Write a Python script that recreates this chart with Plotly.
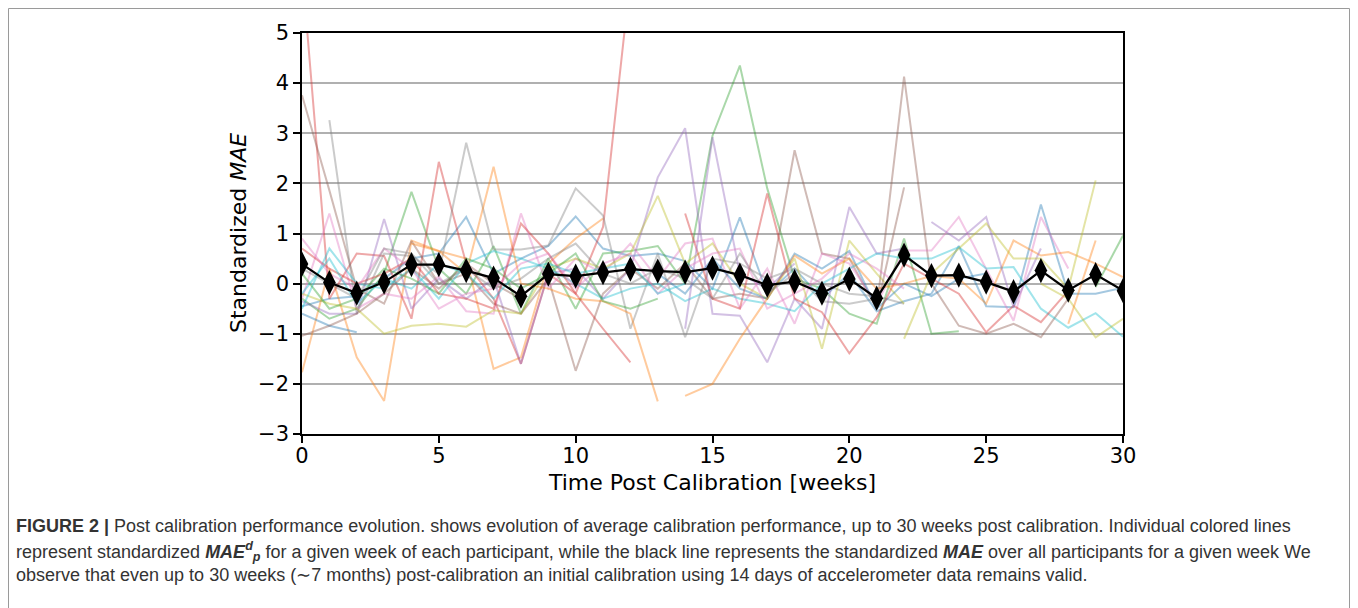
import plotly.graph_objects as go

weeks = [0, 1, 2, 3, 4, 5, 6, 7, 8, 9, 10, 11, 12, 13, 14, 15, 16, 17, 18, 19, 20,
         21, 22, 23, 24, 25, 26, 27, 28, 29, 30]

mean_mae = [0.39, 0.02, -0.19, 0.03, 0.38, 0.38, 0.26, 0.11, -0.25, 0.19, 0.15,
            0.22, 0.29, 0.25, 0.23, 0.31, 0.17, -0.03, 0.04, -0.19, 0.09, -0.29,
            0.57, 0.16, 0.17, 0.03, -0.16, 0.26, -0.13, 0.18, -0.14]

N = None
p01 = [-0.45, -0.3, -0.25, 0.1, 0.5, 0.6, 1.33, 0.2, 0.5, 0.75, 1.34, 0.7, 0.55, 0.6, 0.45, -0.1,
       1.32, -0.2, 0.3, -0.3, 0.2, -0.55, -0.35, -0.2, 0.75, -0.45, -0.47, 1.58, -0.2, -0.2, -0.08]
p02 = [-1.77, 0.3, -1.47, -2.34, 0.86, 0.65, 0.5, -1.7, -1.47, 0.4, 0.9, 1.3, N, N, N, N,
       N, N, N, N, N, N, N, N, N, N, N, N, N, N, N]
p03 = [-0.3, -0.7, -0.5, 0.2, 1.83, 0.3, -0.2, 0.75, -0.6, 0.5, -0.5, 0.6, 0.65, 0.75, 0.0, 2.95,
       4.35, 1.9, 0.1, -0.1, -0.6, -0.8, 0.9, -1.0, -0.95, N, N, N, N, N, N]
p04 = [6.3, -0.3, 0.6, 0.55, -0.7, 2.43, 0.4, -0.3, -1.6, 0.2, -0.2, 1.13, 6.1, N, N, N,
       N, N, N, N, N, N, N, N, N, N, N, N, N, N, N]
p05 = [-0.35, -0.6, -0.6, 1.29, -0.5, 0.1, -0.3, 0.1, -1.6, 0.2, 0.3, -0.3, 0.3, 2.12, 3.1, -0.6,
       -0.64, -1.57, -0.3, -0.9, 1.53, 0.6, 0.7, N, N, N, N, N, N, N, N]
p06 = [3.76, 1.86, -0.1, -0.4, 0.85, 0.0, 0.2, -0.4, -0.6, 0.1, -1.74, -0.2, 0.3, -0.1, 0.4, -0.3,
       -0.2, -0.3, 2.66, 0.6, 0.5, -0.5, 4.13, 0.0, -0.84, -1.0, -0.8, -1.07, -0.3, N, N]
p07 = [-0.3, 1.4, -0.5, -0.2, -0.3, 0.15, -0.55, -0.6, 1.4, -0.1, 0.5, 0.2, 0.8, 0.1, 0.8, 0.9,
       -0.5, 0.3, -0.8, 0.6, 0.4, -0.4, 0.66, 0.66, 1.33, 0.3, -0.74, 1.33, 0.3, N, N]
p08 = [N, 3.26, -0.6, 0.6, 0.55, 0.2, 2.81, 0.68, 0.68, 0.76, 1.9, 1.36, -0.9, 0.6, -1.07, 0.5,
       0.4, 0.1, 0.3, 0.0, -0.2, -0.25, -0.4, N, N, N, N, N, N, N, N]
p09 = [-0.2, -0.4, -0.5, -1.0, -0.84, -0.8, -0.86, -0.53, -0.6, 0.3, 0.5, 0.3, 0.6, 1.75, 0.4, 0.8,
       0.0, -0.3, 0.5, -1.3, 0.86, 0.2, -0.4, N, N, N, N, N, N, N, N]
p10 = [-0.5, 0.7, 0.0, -0.1, 0.3, -0.3, 0.4, 0.65, 0.5, 0.3, 0.0, -0.3, -0.1, 0.0, -0.35, -0.1,
       -0.3, -0.4, -0.55, 0.0, 0.3, 0.6, 0.5, 0.5, 0.73, 0.3, 0.33, -0.5, -0.88, -0.59, -1.06]
p11 = [-0.6, -0.84, -0.97, N, N, N, N, N, N, N, N, N, N, 0.2, -0.2, 0.5,
       -0.1, -0.3, 0.6, 0.3, 0.65, -0.5, 0.0, -0.25, 0.1, 0.2, N, N, N, N, N]
p12 = [N, N, N, N, 0.8, 0.65, 0.2, 2.33, 0.0, -0.1, -0.3, -0.35, -0.6, -2.35, N, N,
       N, N, N, N, N, N, N, N, N, N, N, N, N, N, N]
p13 = [N, N, N, N, N, N, N, N, N, N, N, N, N, N, -2.24, -2.0,
       -1.1, -0.3, 0.56, 0.2, 0.5, -0.1, 0.0, 0.15, 0.1, -0.4, 0.86, 0.56, 0.63, 0.4, 0.13]
p14 = [0.2, -0.5, -0.3, 0.3, 0.1, -0.2, 0.5, 0.3, -0.1, 0.2, 0.6, -0.35, -0.5, -0.3, N, N,
       N, N, N, N, N, N, N, N, N, N, N, N, N, -0.07, 0.96]
p15 = [0.7, 0.3, 0.0, 0.2, 0.5, -0.2, -0.3, -0.5, 1.2, 0.6, -0.2, -0.9, -1.57, N, 1.4, -0.3,
       -0.5, 1.8, -0.3, -0.57, -1.39, -0.67, 0.4, 0.1, -0.2, -0.97, -0.44, -0.77, -0.14, N, N]
p16 = [N, N, N, N, N, N, N, N, N, N, N, N, N, N, -0.9, 2.92,
       0.2, -0.1, 0.4, N, N, N, N, 1.23, 0.86, 1.33, -0.47, 0.7, N, N, N]
p17 = [-1.04, -0.84, -0.6, -0.2, 0.3, -0.1, 0.4, 0.0, -0.3, N, N, N, N, N, N, N,
       N, N, N, N, N, -0.5, 1.92, N, N, N, N, N, N, N, N]
p18 = [0.9, 0.2, -0.1, 0.7, 0.3, -0.5, -0.2, -0.1, 0.4, 0.6, -0.1, 0.4, 0.6, -0.2, 0.3, 0.6,
       0.7, -0.5, -0.2, 0.1, 0.6, 0.3, -0.1, N, N, N, N, N, N, N, N]
p19 = [0.3, 0.0, -0.3, 0.7, 0.6, 0.0, 0.3, -0.1, 0.1, 0.5, 0.8, 0.2, 0.0, 0.3, 0.1, -0.3,
       0.6, -0.2, 0.2, -0.35, -0.4, -0.3, N, N, N, N, N, N, N, N, N]
p20 = [N, N, N, N, N, N, N, N, N, N, N, N, N, N, N, N,
       N, N, N, N, N, N, -1.1, 0.2, 0.7, 1.2, 0.5, 0.5, -0.1, 2.06, N]
p21 = [-0.2, 0.5, -0.4, 0.1, -0.1, 0.4, 0.2, -0.3, 0.3, 0.4, 0.2, 0.3, 0.4, -0.2, 0.0, N,
       N, N, N, N, N, N, N, N, N, N, N, N, N, N, N]
p22 = [N, N, N, N, N, N, N, N, N, N, N, N, N, N, N, N,
       N, N, N, N, N, N, N, N, N, N, N, 0.0, -0.3, -1.07, -0.7]
p23 = [N, N, N, N, N, N, N, N, N, N, N, N, N, N, N, N,
       N, N, N, N, N, N, N, N, N, N, N, N, -0.8, 0.86, N]

participants = [p01, p02, p03, p04, p05, p06, p07, p08, p09, p10, p11, p12,
                p13, p14, p15, p16, p17, p18, p19, p20, p21, p22, p23]
line_colors = ["#1f77b4", "#ff7f0e", "#2ca02c", "#d62728", "#9467bd", "#8c564b",
               "#e377c2", "#7f7f7f", "#bcbd22", "#17becf", "#1f77b4", "#ff7f0e",
               "#ff7f0e", "#2ca02c", "#d62728", "#9467bd", "#8c564b", "#e377c2",
               "#7f7f7f", "#bcbd22", "#17becf", "#bcbd22", "#ff7f0e"]

y_ticks = [-3, -2, -1, 0, 1, 2, 3, 4, 5]
y_tick_text = ["\u22123", "\u22122", "\u22121", "0", "1", "2", "3", "4", "5"]
x_ticks = [0, 5, 10, 15, 20, 25, 30]

caption_lines = [
    "<b>FIGURE 2 |</b> Post calibration performance evolution. shows evolution of average calibration performance, up to 30 weeks post calibration. Individual colored lines",
    "represent standardized <b><i>MAE</i></b><sup><b><i>d</i></b></sup><sub><b><i>p</i></b></sub> for a given week of each participant, while the black line represents the standardized <b><i>MAE</i></b> over all participants for a given week We",
    "observe that even up to 30 weeks (\u223c7 months) post-calibration an initial calibration using 14 days of accelerometer data remains valid.",
]

# The page body adds an 8 px offset; figure coordinates = screen coordinates - 8
OFF = 8
W, H = 1350, 600
L, R, T, B = 302 - OFF, W - (1123 - OFF), 33 - OFF, H - (434 - OFF)
pw, ph = W - L - R, H - T - B

def px(xs):
    return (xs - OFF - L) / pw

def py(ys):
    return (H - B - (ys - OFF)) / ph

fig = go.Figure()
for vals, col in zip(participants, line_colors):
    fig.add_trace(go.Scatter(x=weeks, y=vals, mode="lines",
                             line=dict(color=col, width=2), opacity=0.4,
                             showlegend=False, hoverinfo="skip"))

fig.add_trace(go.Scatter(x=weeks, y=mean_mae, mode="lines+markers",
                         line=dict(color="black", width=2.2),
                         marker=dict(symbol="diamond-tall", size=18, color="black"),
                         showlegend=False))

fig.update_layout(
    width=W, height=H,
    margin=dict(l=L, r=R, t=T, b=B),
    paper_bgcolor="white", plot_bgcolor="white",
    font=dict(family="DejaVu Sans", color="black"),
    xaxis=dict(range=[0, 30], tickvals=x_ticks, ticks="outside", ticklen=7, tickwidth=1.5,
               tickcolor="black", showline=True, linecolor="black", linewidth=1.5, mirror=True,
               showgrid=False, zeroline=False, ticklabelstandoff=-5,
               tickfont=dict(size=21, family="DejaVu Sans")),
    yaxis=dict(range=[-3, 5], tickvals=y_ticks, ticktext=y_tick_text, ticks="outside", ticklen=7,
               tickwidth=1.5, tickcolor="black", showline=True, linecolor="black", linewidth=1.5,
               mirror=True, showgrid=True, gridcolor="#b0b0b0", gridwidth=1.5, zeroline=False,
               tickfont=dict(size=21, family="DejaVu Sans")),
)

annotations = [
    dict(text="Time Post Calibration [weeks]", x=px(712), y=py(482), xref="paper", yref="paper",
         showarrow=False, font=dict(size=22, family="DejaVu Sans", color="black"),
         xanchor="center", yanchor="middle"),
    dict(text="Standardized <i>MAE</i>", x=px(238), y=py(233), xref="paper", yref="paper",
         showarrow=False, textangle=-90, font=dict(size=22, family="DejaVu Sans", color="black"),
         xanchor="center", yanchor="middle"),
]
for line, ypix in zip(caption_lines, [526, 551, 575]):
    annotations.append(dict(text=line, x=px(14), y=py(ypix), xref="paper", yref="paper",
                            showarrow=False, xanchor="left", yanchor="middle", align="left",
                            font=dict(size=18, family="Liberation Sans, Arial",
                                      color="#333333")))
fig.update_layout(annotations=annotations)

fig.add_shape(type="rect", xref="paper", yref="paper",
              x0=px(8.5), x1=px(1349.5), y0=py(610), y1=py(8.5),
              line=dict(color="#9a9a9a", width=1), fillcolor="rgba(0,0,0,0)", layer="below")

fig.write_html("out.html")
